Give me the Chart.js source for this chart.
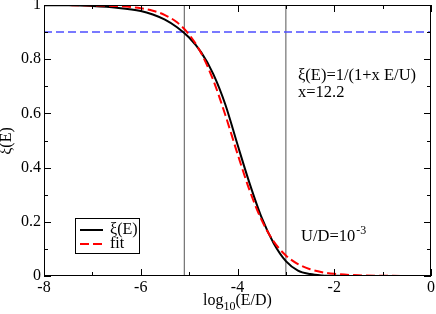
<!DOCTYPE html>
<html>
<head>
<meta charset="utf-8">
<script src="https://cdn.jsdelivr.net/npm/chart.js@4.4.1/dist/chart.umd.min.js"></script>
<style>
  html, body { margin: 0; padding: 0; background: #fff; }
</style>
</head>
<body>
<canvas id="chart" width="436" height="314"></canvas>
<script>
// Data
const logE = [-8, -7.5, -7, -6.5, -6, -5.75, -5.5, -5.25, -5, -4.75, -4.5, -4.25, -4, -3.75, -3.5, -3.25, -3, -2.75, -2.5, -2.25, -2, -1.5, -1, -0.5, 0];
const xiE  = [0.9995, 0.999, 0.996, 0.99, 0.978, 0.965, 0.946, 0.918, 0.88, 0.825, 0.745, 0.632, 0.485, 0.342, 0.215, 0.12, 0.055, 0.02, 0.007, 0.002, 0.0005, 0, 0, 0, 0];
const fitE = [0.9999, 0.9996, 0.9988, 0.9962, 0.988, 0.979, 0.963, 0.936, 0.891, 0.822, 0.722, 0.593, 0.451, 0.316, 0.206, 0.127, 0.076, 0.044, 0.025, 0.014, 0.008, 0.0026, 0.0008, 0.0003, 0.0001];
const vLines = [-5.1, -3.0];
const hLine = 0.9;
const xTicks = [-8, -6, -4, -2, 0];
const yTicks = [0, 0.2, 0.4, 0.6, 0.8, 1];

const FONT = "'Liberation Serif', 'Times New Roman', serif";

const toPts = ys => logE.map((x, i) => ({ x: x, y: ys[i] }));

const datasets = [
  {
    label: "fit", data: toPts(fitE), borderColor: "#ff0000", borderWidth: 2,
    borderDash: [9, 4], pointRadius: 0, cubicInterpolationMode: "monotone", order: 0
  },
  {
    label: "ξ(E)", data: toPts(xiE), borderColor: "#000000", borderWidth: 2,
    pointRadius: 0, cubicInterpolationMode: "monotone", order: 1
  },
  {
    label: "", data: [{ x: -8, y: hLine }, { x: 0, y: hLine }], borderColor: "#4d4dff",
    borderWidth: 1.5, borderDash: [8, 4], pointRadius: 0, order: 2
  }
];
vLines.forEach(v => datasets.push({
  label: "", data: [{ x: v, y: 0 }, { x: v, y: 1 }], borderColor: "#555555",
  borderWidth: 1, pointRadius: 0, order: 3
}));

// frame, inner ticks, axis titles, legend box and text labels
const decor = {
  id: "decor",
  afterDraw(chart) {
    const { ctx, chartArea: a, scales: { x, y } } = chart;
    ctx.save();
    ctx.strokeStyle = "#000";
    ctx.lineWidth = 1;
    ctx.strokeRect(a.left + 0.5, a.top + 0.5, a.right - a.left - 1, a.bottom - a.top - 1);

    ctx.beginPath();
    for (let v = -8; v <= 0; v += 1) {
      const px = Math.round(x.getPixelForValue(v)) + 0.5;
      const len = v % 2 === 0 ? 7 : 4;
      ctx.moveTo(px, a.bottom); ctx.lineTo(px, a.bottom - len);
      ctx.moveTo(px, a.top); ctx.lineTo(px, a.top + len);
    }
    for (let k = 0; k <= 10; k++) {
      const py = Math.round(y.getPixelForValue(k / 10)) + 0.5;
      const len = k % 2 === 0 ? 7 : 4;
      ctx.moveTo(a.left, py); ctx.lineTo(a.left + len, py);
      ctx.moveTo(a.right, py); ctx.lineTo(a.right - len, py);
    }
    ctx.stroke();

    ctx.fillStyle = "#000";
    ctx.textBaseline = "alphabetic";
    // x title: log10(E/D)
    const big = "16px " + FONT, small = "12px " + FONT;
    ctx.font = big; const w1 = ctx.measureText("log").width, w3 = ctx.measureText("(E/D)").width;
    ctx.font = small; const w2 = ctx.measureText("10").width;
    let tx = (a.left + a.right) / 2 - (w1 + w2 + w3) / 2;
    const ty = 305;
    ctx.font = big; ctx.fillText("log", tx, ty); tx += w1;
    ctx.font = small; ctx.fillText("10", tx, ty + 5); tx += w2;
    ctx.font = big; ctx.fillText("(E/D)", tx, ty);

    // y title
    ctx.save();
    ctx.translate(7, 141);
    ctx.rotate(-Math.PI / 2);
    ctx.textAlign = "center";
    ctx.textBaseline = "middle";
    ctx.font = big;
    ctx.fillText("ξ(E)", 0, 0);
    ctx.restore();

    // legend
    ctx.strokeRect(75.5, 218.5, 64, 35);
    ctx.textBaseline = "middle";
    ctx.font = big;
    ctx.lineWidth = 2;
    ctx.strokeStyle = "#000";
    ctx.beginPath(); ctx.moveTo(80, 230); ctx.lineTo(103, 230); ctx.stroke();
    ctx.strokeStyle = "#ff0000"; ctx.setLineDash([9, 4]);
    ctx.beginPath(); ctx.moveTo(80, 244); ctx.lineTo(104, 244); ctx.stroke();
    ctx.setLineDash([]);
    ctx.fillText(datasets[1].label, 110, 230);
    ctx.fillText(datasets[0].label, 110, 244);

    // annotations
    ctx.textBaseline = "alphabetic";
    ctx.font = "16.5px " + FONT;
    ctx.fillText("ξ(E)=1/(1+x E/U)", 298, 80);
    ctx.fillText("x=12.2", 298, 97);
    ctx.fillText("U/D=10", 301, 241);
    const wu = ctx.measureText("U/D=10").width;
    ctx.font = small;
    ctx.fillText("-3", 301 + wu + 1, 234);
    ctx.restore();
  }
};

new Chart(document.getElementById("chart"), {
  type: "line",
  data: { datasets: datasets },
  options: {
    responsive: false,
    animation: false,
    devicePixelRatio: 1,
    layout: { padding: { left: 19, right: 5, top: 5, bottom: 18 } },
    plugins: { legend: { display: false }, tooltip: { enabled: false } },
    scales: {
      x: {
        type: "linear", min: -8, max: 0,
        afterBuildTicks: s => { s.ticks = xTicks.map(v => ({ value: v })); },
        afterFit: s => { s.height = 20; s.paddingLeft = 0; s.paddingRight = 0; },
        ticks: { color: "#000", font: { family: FONT, size: 16 }, padding: 2, maxRotation: 0 },
        grid: { display: false, drawTicks: false, tickLength: 0 },
        border: { display: false }
      },
      y: {
        type: "linear", min: 0, max: 1,
        afterBuildTicks: s => { s.ticks = yTicks.map(v => ({ value: v })); },
        afterFit: s => { s.width = 25; s.paddingTop = 0; s.paddingBottom = 0; },
        ticks: {
          color: "#000", font: { family: FONT, size: 16 }, padding: 3,
          callback: v => String(+v.toFixed(1))
        },
        grid: { display: false, drawTicks: false, tickLength: 0 },
        border: { display: false }
      }
    }
  },
  plugins: [decor]
});
</script>
</body>
</html>
